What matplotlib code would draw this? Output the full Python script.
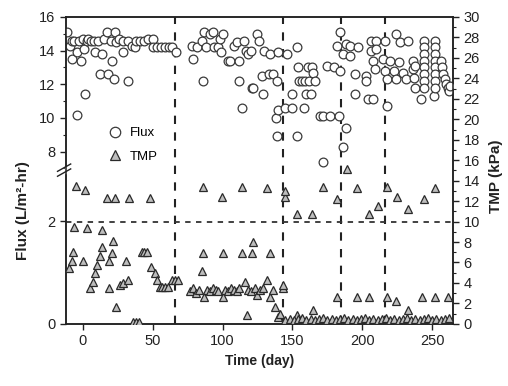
import numpy as np
import matplotlib
matplotlib.use("Agg")
import matplotlib.pyplot as plt
from matplotlib.lines import Line2D

plt.rcParams['font.family'] = ['Liberation Sans', 'DejaVu Sans']

# ---------------------------------------------------------------------------
# data
# ---------------------------------------------------------------------------
flux_day = [
    -11, -9, -8, -8, -6, -4, -4, -3, -1, 0, 1, 1.5, 3, 4, 6, 8, 9, 11, 12, 14,
    15, 17, 18, 20, 21, 22, 23, 24, 26, 29, 29, 32, 32, 35, 37, 38, 41, 44, 47,
    50, 50, 53, 56, 59, 62, 64, 67,
    78, 79, 82, 85, 86, 87, 88, 91, 93, 94, 97, 98, 99, 100, 104, 105, 108,
    110, 112, 112, 114, 115, 117, 118, 120, 121, 122, 125, 126, 128, 129, 130,
    133, 134, 136, 139, 140,
    138, 139, 140, 145, 146, 150, 150, 153, 153, 154, 155, 157, 158, 159, 160,
    161, 162, 163, 164, 165, 166, 170, 172, 172, 175, 177, 180, 182, 183, 184,
    184, 186, 186, 188, 188, 191, 191, 195, 195, 197, 203, 203, 204, 206, 206,
    208, 208, 209, 210, 210, 215, 216, 216, 218, 218, 220, 223, 224, 224, 226,
    227, 229, 231, 233, 236, 236, 237, 238, 238, 242,
    244, 244, 244, 244, 244, 244, 244, 244,
    251, 252, 252, 252, 252, 252, 252, 252, 252,
    256, 257, 258, 259, 260, 261, 262, 263,
]
flux_val = [
    15.1, 14.3, 13.5, 14.6, 14.6, 13.9, 10.2, 14.6, 13.4, 14.7, 14.1, 11.4,
    14.6, 14.7, 14.6, 14.6, 13.9, 14.6, 12.6, 13.8, 14.7, 15.1, 12.6, 14.6,
    13.4, 12.3, 15.1, 14.5, 14.7, 13.9, 14.6, 12.2, 14.6, 14.3, 14.2, 14.6,
    14.6, 14.6, 14.7, 14.7, 14.2, 14.2, 14.2, 14.2, 14.2, 14.2, 13.9,
    14.3, 13.5, 14.2, 14.6, 12.2, 15.1, 14.2, 15.0, 15.1, 14.2, 14.2, 14.7,
    13.9, 15.0, 13.4, 13.4, 14.3, 14.5, 13.4, 12.2, 10.6, 14.6, 14.0, 13.8,
    14.0, 11.8, 11.8, 15.0, 14.6, 12.5, 11.4, 14.0, 12.6, 13.8, 12.6, 12.2,
    13.9,
    10.0, 8.9, 10.5, 10.6, 13.8, 10.6, 11.4, 14.2, 8.9, 13.0, 12.2, 12.2, 10.6,
    12.2, 11.4, 13.0, 12.2, 11.4, 13.0, 12.7, 12.2, 10.1, 7.4, 10.1, 13.1,
    10.1, 13.0, 14.3, 10.1, 15.1, 12.8, 13.8, 8.3, 14.4, 9.4, 14.3, 13.7, 12.6,
    11.4, 14.2, 12.5, 12.2, 11.1, 14.6, 14.0, 13.4, 11.1, 12.9, 14.6, 14.1,
    13.5, 14.6, 12.8, 12.3, 10.7, 13.4, 12.8, 15.0, 12.3, 13.3, 14.5, 12.7,
    12.3, 14.6, 13.4, 12.9, 12.4, 11.8, 13.1, 11.1,
    14.6, 14.2, 13.8, 13.4, 13.0, 12.6, 12.2, 11.8,
    11.3, 14.6, 14.2, 13.8, 13.4, 13.0, 12.6, 12.2, 11.8,
    13.4, 13.0, 12.6, 12.3, 12.0, 11.8, 11.6, 11.9,
]

tmp_day = [
    -10, -8, -7, -6, -5, 0, 1.5, 3, 5, 7, 8.6, 10, 12, 13.6, 14, 17, 19, 19,
    21, 21.5, 23, 24, 26.5, 29, 31, 32, 33, 36, 38, 40, 42, 44, 46, 48, 49, 52,
    53, 55, 57, 59, 61, 64, 66, 68,
    77, 79, 81, 83, 85, 86, 86, 87, 89, 91, 93, 95, 97, 99.5, 100, 100, 102,
    104, 106, 108, 110, 112, 114, 114, 116, 117.5, 118, 120, 121, 122, 123,
    125, 127, 129, 132, 132, 134, 134, 136, 137.5, 140, 141, 143, 143, 145,
    145,
    153, 153, 164, 165, 172, 182, 182, 189, 196, 196, 205, 205, 211, 218, 218,
    224, 225, 233, 233, 243, 244, 252, 252, 261,
    145, 148, 151, 154, 157, 160, 163, 166, 169, 172, 175, 178, 181, 184, 187,
    190, 193, 196, 199, 202, 205, 208, 211, 214, 217, 220, 223, 226, 229, 232,
    235, 238, 241, 244, 247, 250, 253, 256, 259, 262,
]
tmp_val = [
    5.5, 6.1, 7.0, 9.5, 13.5, 6.1, 13.1, 9.4, 3.5, 4.1, 5.0, 5.8, 6.6, 7.5,
    9.2, 12.3, 6.1, 3.5, 6.9, 8.1, 12.3, 1.6, 3.8, 4.0, 6.1, 4.3, 12.3, 0.2,
    0.2, 0.2, 7.0, 7.0, 7.0, 12.3, 5.6, 5.0, 4.3, 3.6, 3.6, 3.6, 3.6, 4.3, 4.3,
    4.3,
    3.2, 3.5, 3.0, 3.3, 5.2, 13.4, 6.9, 2.6, 3.3, 3.2, 3.5, 3.3, 3.2, 12.4,
    6.9, 2.6, 3.3, 3.2, 3.5, 3.3, 3.2, 3.5, 13.4, 6.9, 4.1, 0.9, 3.3, 3.2, 6.9,
    8.0, 3.5, 2.8, 3.3, 3.5, 13.3, 4.3, 6.9, 2.6, 3.3, 1.6, 0.7, 1.0, 3.5, 3.8,
    12.4, 13.0,
    10.7, 0.9, 10.7, 1.4, 13.4, 12.2, 2.6, 15.1, 13.3, 2.6, 10.7, 2.6, 11.5,
    13.4, 2.6, 2.2, 12.4, 11.2, 1.4, 2.6, 12.2, 13.3, 2.6, 2.6,
    0.4, 0.5, 0.4, 0.5, 0.6, 0.4, 0.5, 0.4, 0.5, 0.6, 0.4, 0.5, 0.4, 0.5, 0.6,
    0.4, 0.5, 0.4, 0.5, 0.6, 0.4, 0.5, 0.4, 0.5, 0.6, 0.4, 0.5, 0.4, 0.5, 0.6,
    0.4, 0.5, 0.4, 0.5, 0.6, 0.4, 0.5, 0.4, 0.5, 0.6,
]

stage_days = [66, 143, 185, 216]

# broken flux axis: 0-3 below the break, 6.9-16 above it
LO_TOP, UP_BOT = 3.0, 6.9
K_LO, K_UP = 51.0, 16.75


def fwd(f):
    f = np.asarray(f, dtype=float)
    return np.minimum(f, LO_TOP) * K_LO + np.maximum(f - UP_BOT, 0) * K_UP


def inv(y):
    y = np.asarray(y, dtype=float)
    b = LO_TOP * K_LO
    return np.where(y <= b, y / K_LO, UP_BOT + (y - b) / K_UP)


# ---------------------------------------------------------------------------
# figure
# ---------------------------------------------------------------------------
fig = plt.figure(figsize=(5.08, 3.86), dpi=100)
ax = fig.add_axes([0.130, 0.161, 0.762, 0.795])
ax2 = ax.twinx()

ax.set_yscale('function', functions=(fwd, inv))
ax.set_ylim(0, 16)
ax.set_xlim(-12, 265)
ax2.set_ylim(0, 30)

ax.plot(flux_day, flux_val, 'o', ms=6.3, mfc='white', mec='#3a3a3a',
        mew=0.9, zorder=3)
ax2.plot(tmp_day, tmp_val, '^', ms=5.7, mfc='#bdbdbd', mec='#2a2a2a',
         mew=0.9, zorder=3)

# reference lines
ax2.axhline(10, color='#333333', lw=1.3, ls=(0, (3, 3)), zorder=1)
for d in stage_days:
    ax.axvline(d, color='#222222', lw=1.5, ls=(0, (4, 4)), zorder=1)

# ticks
ax.set_yticks([0, 2, 8, 10, 12, 14, 16])
ax.set_yticks([7, 9, 11, 13, 15], minor=True)
ax.set_xticks([0, 50, 100, 150, 200, 250])
ax2.set_yticks(np.arange(0, 31, 2))
ax2.set_yticks(np.arange(1, 30, 2), minor=True)
for a in (ax, ax2):
    a.tick_params(axis='both', which='major', labelsize=10.5, length=4,
                  width=1, direction='out', color='#222222', labelcolor='#222222')
    a.tick_params(axis='both', which='minor', length=2.5, width=0.8,
                  direction='out', color='#222222')
    for s in a.spines.values():
        s.set_linewidth(1.1)
        s.set_color('#222222')

# break marks on the left spine
yb = fwd(LO_TOP) / fwd(16)
for dy in (-0.008, 0.008):
    ax.plot([-0.022, 0.012], [yb + dy - 0.012, yb + dy + 0.012],
            transform=ax.transAxes, color='#222222', lw=1.0, clip_on=False,
            zorder=5)
ax.plot([0, 0], [yb - 0.006, yb + 0.006], transform=ax.transAxes,
        color='white', lw=2.5, clip_on=False, zorder=4)

ax.set_xlabel('Time (day)', fontsize=10, fontweight='bold', color='#222222')
ax.set_ylabel('Flux (L/m²-hr)', fontsize=11, fontweight='bold', color='#222222')
ax.yaxis.set_label_coords(-0.093, 0.37)
ax2.set_ylabel('TMP (kPa)', fontsize=11, fontweight='bold', color='#222222')
ax2.yaxis.set_label_coords(1.092, 0.48)

handles = [
    Line2D([], [], ls='none', marker='o', ms=7.5, mfc='white', mec='#3a3a3a',
           mew=0.9, label='Flux'),
    Line2D([], [], ls='none', marker='^', ms=6.5, mfc='#bdbdbd', mec='#2a2a2a',
           mew=0.9, label='TMP'),
]
ax.legend(handles=handles, loc='upper left', bbox_to_anchor=(0.08, 0.68),
          frameon=False, fontsize=9.5, handletextpad=0.6, labelspacing=0.85,
          handlelength=1.0)

fig.savefig('out.png', dpi=100)
